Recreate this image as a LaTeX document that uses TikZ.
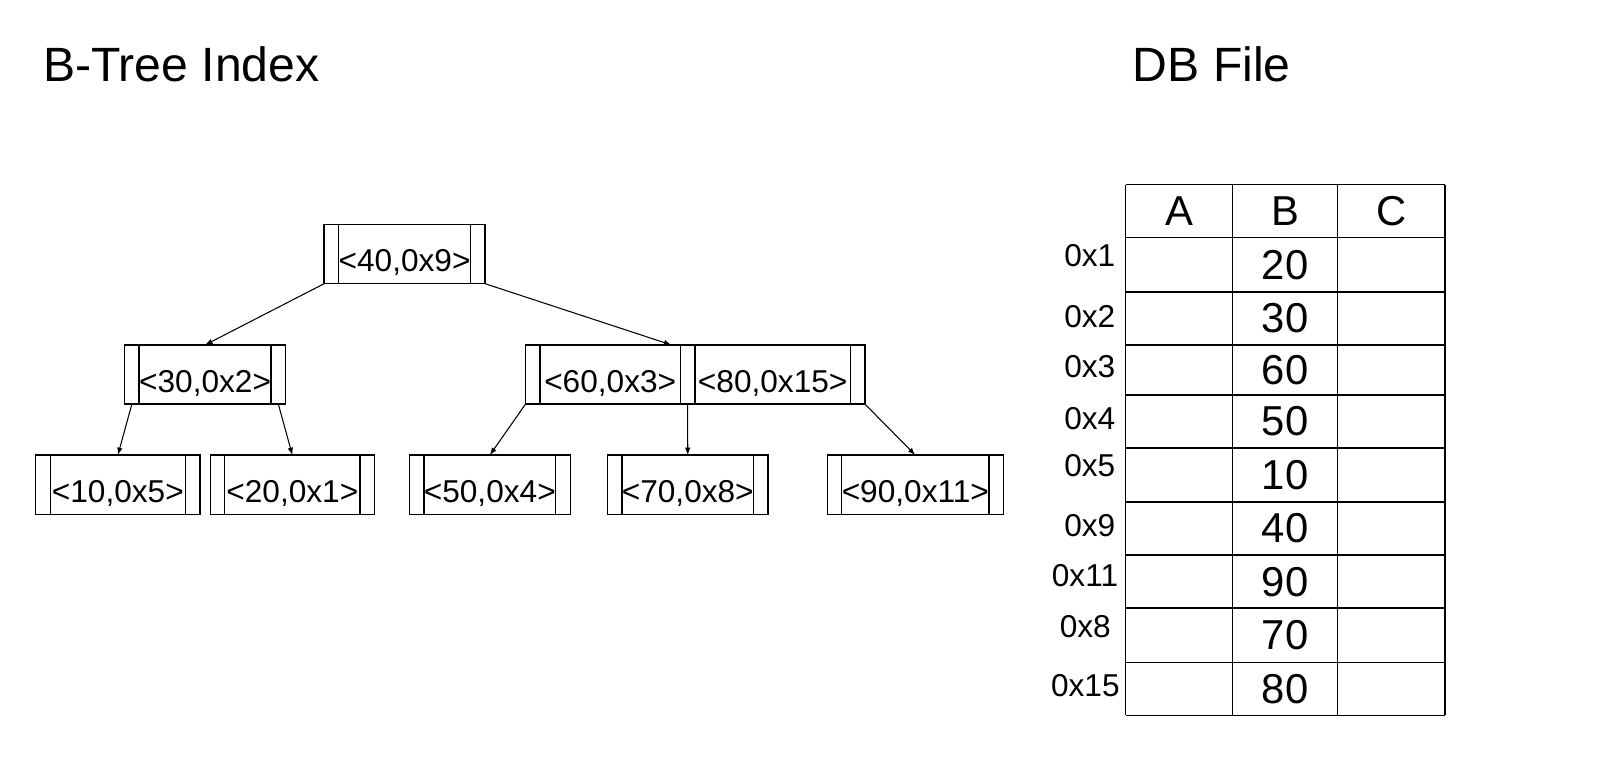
\documentclass[tikz,border=0pt]{standalone}
\usepackage{fontspec}
\setmainfont{Liberation Sans}
\usepackage{tikz}
\usetikzlibrary{arrows.meta}
\usetikzlibrary{positioning}

\newcommand{\keyfont}{\fontsize{9pt}{11pt}\selectfont}
\newcommand{\cellfont}{\fontsize{11.9pt}{14pt}\selectfont}
\newcommand{\titlefont}{\fontsize{13.7pt}{16pt}\selectfont}

\tikzset{
    bnode/.style={draw, line width=0.4pt, minimum height=0.592cm, inner xsep=0.145cm, inner ysep=0pt, outer sep=0pt,
        text height=0.4cm, text depth=0.05cm, font=\keyfont,
        path picture={
            \draw ([xshift=0.145cm]path picture bounding box.north west) -- ([xshift=0.145cm]path picture bounding box.south west);
            \draw ([xshift=-0.145cm]path picture bounding box.north east) -- ([xshift=-0.145cm]path picture bounding box.south east);
        }},
    ptr/.style={-{Latex[length=0.75mm, width=0.55mm]}, line width=0.3pt},
    cell/.style={inner sep=0pt, font=\cellfont},
    addr/.style={inner sep=0pt, font=\keyfont},
    title/.style={inner sep=0pt, anchor=west, font=\titlefont}
}

\begin{document}
\begin{tikzpicture}[x=0.010204cm, y=-0.010204cm]

    \useasboundingbox (0,0) rectangle (1568,746.8);

    \node [title] (tindex) at (41.5,63.2) {B-Tree Index};
    \node [title] (tfile) at (1109.6,63.2) {DB File};

    % B-tree nodes
    \node [bnode] (k40) at (396.5,249) {<40,0x9>};
    \node [bnode] (k30) at (201,367) {<30,0x2>};
    \node [bnode, anchor=west, minimum width=1.694cm] (k60) at (515,367) {<60,0x3>};
    \node [bnode, anchor=west, minimum width=1.847cm] (k80) at ([xshift=-0.145cm]k60.east) {<80,0x15>};

    \node [bnode, minimum width=1.643cm] (k10) at (115.5,475) {<10,0x5>};
    \node [bnode, minimum width=1.643cm] (k20) at (286.5,475) {<20,0x1>};
    \node [bnode] (k50) at (480,475) {<50,0x4>};
    \node [bnode] (k70) at (674,475) {<70,0x8>};
    \node [bnode] (k90) at (897,475) {<90,0x11>};

    \draw [ptr] (k40.south west) -- (k30.north);
    \draw [ptr] (k40.south east) -- ([xshift=-0.235cm]k60.north east);
    \draw [ptr] ([xshift=0.072cm]k30.south west) -- (k10.north);
    \draw [ptr] ([xshift=-0.072cm]k30.south east) -- (k20.north);
    \draw [ptr] (k60.south west) -- (k50.north);
    \draw [ptr] ([xshift=0.072cm]k80.south west) -- (k70.north);
    \draw [ptr] (k80.south east) -- (k90.north);

    % DB file table
    \foreach \x in {1103,1208,1311,1416}
        \draw [line width=0.4pt] (\x,181) -- (\x,701);
    \foreach \y in {181,233,286,338,387,439,492,544,596,649,701}
        \draw [line width=0.4pt] (1103,\y) -- (1416,\y);

    \foreach \c/\x in {A/1155.5, B/1259.5, C/1363.5}
        \node [cell] (h\c) at (\x,207) {\c};

    \foreach \v/\y in {20/259.5, 30/312, 60/362.5, 50/413, 10/465.5, 40/518, 90/570, 70/622.5, 80/675}
        \node [cell] (v\v) at (1259.5,\y) {\v};

    \foreach \a/\x/\y in {0x1/1068/250.7, 0x2/1068/310.3, 0x3/1068/359.3, 0x4/1068/410, 0x5/1068/456.5, 0x9/1068/515.3, 0x11/1063.3/564.3, 0x8/1063.6/614.5, 0x15/1063.6/672.1}
        \node [addr] (a\a) at (\x,\y) {\a};

\end{tikzpicture}
\end{document}
